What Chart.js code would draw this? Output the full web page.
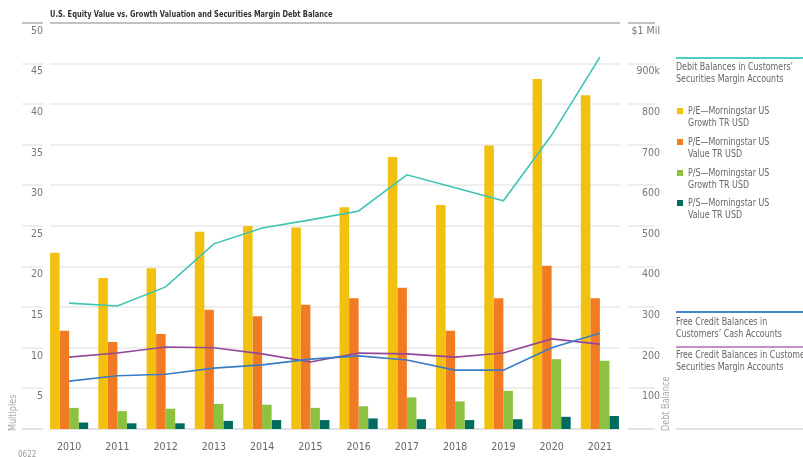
<!DOCTYPE html>
<html>
<head>
<meta charset="utf-8">
<script src="https://cdn.jsdelivr.net/npm/chart.js@4.4.1/dist/chart.umd.min.js"></script>
<style>
  body { margin: 0; background: #fff; }
  #wrap { position: relative; width: 803px; height: 457px; overflow: hidden;
          font-family: "Liberation Sans Narrow", "DejaVu Sans Condensed", Roboto, sans-serif; }
  #chart { position: absolute; left: 0; top: 0; }
  .title { position: absolute; left: 50px; top: 8px; font-size: 9.5px; font-weight: bold; color: #333; white-space: nowrap;
           transform-origin: 0 0; transform: scaleX(0.78); }
  .rule { position: absolute; left: 676px; width: 127px; height: 2px; }
  .txt { position: absolute; left: 676px; font-size: 10.5px; line-height: 11.5px; color: #666; white-space: nowrap;
         transform-origin: 0 0; transform: scaleX(0.84); }
  .sw { position: absolute; left: 677px; width: 6px; height: 6px; }
  .vt { position: absolute; font-size: 10px; color: #aaa; white-space: nowrap; transform-origin: 0 0; transform: rotate(-90deg) scaleX(0.9); }
  .foot { position: absolute; left: 18px; top: 450px; font-size: 8px; color: #999; }
</style>
</head>
<body>
<div id="wrap">
  <canvas id="chart" width="803" height="457"></canvas>
  <div class="title">U.S. Equity Value vs. Growth Valuation and Securities Margin Debt Balance</div>
  <div id="legend"></div>
  <div class="vt" style="left:7px; top:431px;">Multiples</div>
  <div class="vt" style="left:660px; top:431px;">Debt Balance</div>
  <div class="foot">0622</div>
</div>
<script>
// data
const years = ['2010', '2011', '2012', '2013', '2014', '2015', '2016', '2017', '2018', '2019', '2020', '2021'];

// multiples (left axis)
const peGrowth = [21.7, 18.6, 19.8, 24.3, 25.0, 24.8, 27.3, 33.5, 27.6, 34.9, 43.1, 41.1];
const peValue  = [12.1, 10.7, 11.7, 14.7, 13.9, 15.3, 16.1, 17.4, 12.1, 16.1, 20.1, 16.1];
const psGrowth = [2.6, 2.2, 2.5, 3.1, 3.0, 2.6, 2.8, 3.9, 3.4, 4.7, 8.6, 8.4];
const psValue  = [0.8, 0.7, 0.7, 1.0, 1.1, 1.1, 1.3, 1.2, 1.1, 1.2, 1.5, 1.6];

// balances, $ thousands (right axis)
const debitMargin      = [310, 303, 350, 456, 495, 515, 537, 626, 594, 562, 724, 916];
const freeCreditCash   = [118, 131, 135, 150, 158, 172, 180, 170, 145, 145, 200, 236];
const freeCreditMargin = [177, 187, 202, 200, 185, 165, 187, 185, 177, 187, 222, 209];

const multipleTickLabels = ['', '5', '10', '15', '20', '25', '30', '35', '40', '45', '50'];
const balanceTickLabels  = ['', '100', '200', '300', '400', '500', '600', '700', '800', '900k', '$1 Mil'];

const barNames = [
  ['P/E\u2014Morningstar US', 'Growth TR USD'],
  ['P/E\u2014Morningstar US', 'Value TR USD'],
  ['P/S\u2014Morningstar US', 'Growth TR USD'],
  ['P/S\u2014Morningstar US', 'Value TR USD']
];
const lineNames = [
  ['Debit Balances in Customers\u2019', 'Securities Margin Accounts'],
  ['Free Credit Balances in', 'Customers\u2019 Cash Accounts'],
  ['Free Credit Balances in Customers\u2019', 'Securities Margin Accounts']
];

const barColors = ['#f2c10f', '#f07b22', '#8dc240', '#006b5f'];
const lineColors = ['#3fc4b4', '#3b7cc4', '#93479a'];
const lineLegendColors = ['#4ecdc0', '#4a86cf', '#c58fc8'];

const FONT = '"Liberation Sans Narrow", "DejaVu Sans Condensed", Roboto, sans-serif';

// custom grid: stubs under the tick labels, inset plot lines
const gridPlugin = {
  id: 'stubGrid',
  beforeDatasetsDraw(chart) {
    const ctx = chart.ctx;
    const y = chart.scales.y;
    ctx.save();
    y.ticks.forEach(t => {
      const py = Math.round(y.getPixelForValue(t.value));
      const isTop = t.value === y.max;
      ctx.strokeStyle = isTop ? '#c2c2c2' : (t.value === 0 ? '#d8d8d8' : '#e9e9e9');
      ctx.lineWidth = isTop ? 2 : 1.5;
      const segs = [[22, 43], [50, 620], [628, 655]];
      if (t.value === 0) segs.push([676, 803]);
      segs.forEach(s => {
        ctx.beginPath();
        ctx.moveTo(s[0], py);
        ctx.lineTo(s[1], py);
        ctx.stroke();
      });
    });
    ctx.restore();
  }
};

const barSets = [peGrowth, peValue, psGrowth, psValue].map((d, i) => ({
  type: 'bar',
  label: barNames[i].join(' '),
  data: d,
  backgroundColor: barColors[i],
  yAxisID: 'y',
  categoryPercentage: 0.79,
  barPercentage: 1.0,
  order: 1
}));

const lineSets = [debitMargin, freeCreditCash, freeCreditMargin].map((d, i) => ({
  type: 'line',
  label: lineNames[i].join(' '),
  data: d,
  borderColor: lineColors[i],
  borderWidth: 1.6,
  pointRadius: 0,
  tension: 0,
  fill: false,
  yAxisID: 'y2',
  order: 0
}));

new Chart(document.getElementById('chart'), {
  data: { labels: years, datasets: barSets.concat(lineSets) },
  options: {
    responsive: false,
    animation: false,
    layout: { padding: { top: 23, right: 143, left: 0, bottom: 0 } },
    plugins: { legend: { display: false }, tooltip: { enabled: false } },
    scales: {
      x: {
        grid: { display: false },
        border: { display: false },
        ticks: { color: '#666', font: { family: FONT, size: 10.5 }, padding: 4, maxRotation: 0 },
        afterFit(s) { s.height = 28; }
      },
      y: {
        position: 'left',
        min: 0, max: 50,
        grid: { display: false, drawTicks: false },
        border: { display: false },
        ticks: {
          stepSize: 5, padding: 2, labelOffset: 8, color: '#777',
          font: { family: FONT, size: 10.5 },
          callback: (v, i) => multipleTickLabels[i]
        },
        afterFit(s) { s.width = 45; }
      },
      y2: {
        position: 'right',
        min: 0, max: 1000,
        grid: { display: false, drawTicks: false },
        border: { display: false },
        ticks: {
          stepSize: 100, padding: 6, labelOffset: 8, color: '#777', crossAlign: 'far',
          font: { family: FONT, size: 10.5 },
          callback: (v, i) => balanceTickLabels[i]
        },
        afterFit(s) { s.width = 36; }
      }
    }
  },
  plugins: [gridPlugin]
});

// html legend on the right
const legend = document.getElementById('legend');
function add(cls, style, html) {
  const el = document.createElement('div');
  el.className = cls;
  el.setAttribute('style', style);
  if (html) el.innerHTML = html;
  legend.appendChild(el);
}
const ruleTops = [57, 311, 346];
const ruleTextTops = [61, 316, 349];
lineNames.forEach((n, i) => {
  add('rule', 'top:' + ruleTops[i] + 'px; background:' + lineLegendColors[i] + ';');
  add('txt', 'top:' + ruleTextTops[i] + 'px;', n.join('<br>'));
});
const itemTops = [111, 142, 173, 203];
barNames.forEach((n, i) => {
  add('sw', 'top:' + (itemTops[i] - 3) + 'px; background:' + barColors[i] + ';');
  add('txt', 'left:688px; top:' + (itemTops[i] - 6) + 'px;', n.join('<br>'));
});
</script>
</body>
</html>
